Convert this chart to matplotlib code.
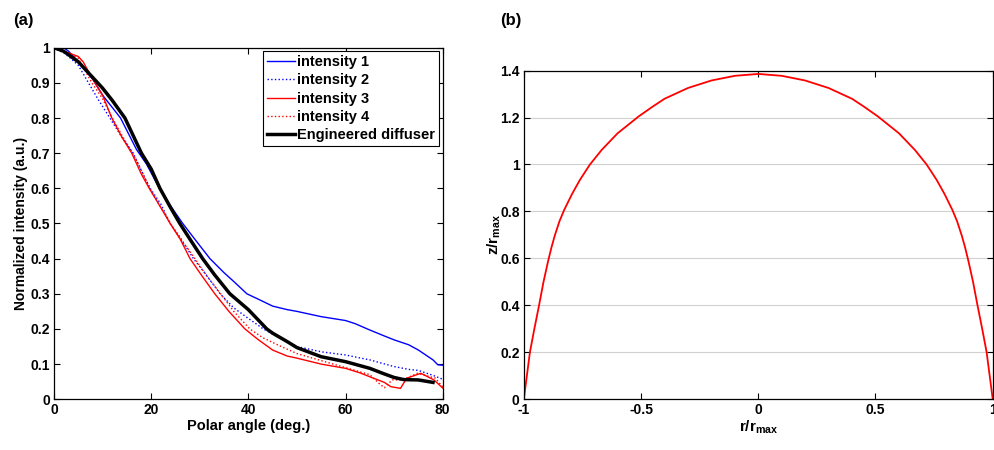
import matplotlib
matplotlib.use("Agg")
import matplotlib.pyplot as plt

plt.rcParams['font.family'] = ['Liberation Sans', 'DejaVu Sans']
plt.rcParams['font.weight'] = 'bold'
plt.rcParams['mathtext.fontset'] = 'custom'
plt.rcParams['mathtext.rm'] = 'Liberation Sans:bold'
plt.rcParams['mathtext.it'] = 'Liberation Sans:bold'

# (a) angular intensity profiles
ang_1 = [0, 2, 3, 5, 8, 10, 12, 13.7, 17, 19, 21.7, 24, 26.5, 29, 32.1, 35, 37, 39.7, 42, 45,
         48, 50, 55, 60, 62, 65, 68, 70, 73, 75, 78, 79, 80]
int_1 = [1.0, 1.0, 0.99, 0.96, 0.91, 0.865, 0.83, 0.8, 0.71, 0.67, 0.6, 0.55, 0.5, 0.455, 0.4,
         0.36, 0.335, 0.3, 0.285, 0.265, 0.255, 0.25, 0.235, 0.224, 0.215, 0.197, 0.18, 0.169,
         0.155, 0.14, 0.112, 0.098, 0.097]

ang_2 = [0, 2, 3, 5, 7.1, 9, 11.5, 14, 16.3, 18, 19.8, 22, 23.9, 26, 28.7, 31, 34.2, 37, 40,
         43.1, 46, 50, 55, 60, 65, 70, 73, 75, 78, 80]
int_2 = [1.0, 0.985, 0.975, 0.95, 0.9, 0.855, 0.8, 0.745, 0.7, 0.65, 0.6, 0.555, 0.5, 0.46, 0.4,
         0.36, 0.3, 0.26, 0.23, 0.2, 0.178, 0.15, 0.135, 0.126, 0.112, 0.093, 0.085, 0.082,
         0.068, 0.057]

ang_3 = [0, 2, 3, 5, 6, 8, 10, 11.9, 14, 16, 18, 19.6, 22, 23.9, 26, 28, 30.5, 33.1, 36, 39.3,
         42, 45, 48, 50, 55, 60, 63, 65, 68, 69.3, 71.3, 72.6, 75.5, 78.2, 80]
int_3 = [1.0, 0.99, 0.985, 0.975, 0.96, 0.91, 0.865, 0.8, 0.745, 0.7, 0.64, 0.6, 0.545, 0.5,
         0.455, 0.4, 0.35, 0.3, 0.25, 0.2, 0.17, 0.14, 0.123, 0.117, 0.1, 0.088, 0.075, 0.064,
         0.048, 0.036, 0.031, 0.06, 0.074, 0.055, 0.032]

ang_4 = [0, 2, 3, 5, 7.8, 10, 12, 14, 16.2, 18, 19.7, 22, 24, 26.5, 27.5, 29, 31.5, 34.3, 37,
         40.3, 43, 46, 50, 55, 60, 65, 66.9, 68, 69.6, 71.8, 74.8, 78.5, 80]
int_4 = [1.0, 0.99, 0.985, 0.97, 0.9, 0.855, 0.8, 0.75, 0.7, 0.65, 0.6, 0.545, 0.5, 0.445, 0.43,
         0.4, 0.35, 0.3, 0.25, 0.2, 0.175, 0.155, 0.13, 0.11, 0.09, 0.07, 0.045, 0.033, 0.055,
         0.055, 0.074, 0.06, 0.035]

ang_d = [0, 2, 5, 8, 10, 12, 14.6, 18, 20, 21.8, 24, 25.9, 28, 30.6, 33, 36.2, 40, 43.8, 45,
         48, 50, 55, 60, 65, 68, 70, 72, 75, 78]
int_d = [1.0, 0.99, 0.96, 0.915, 0.885, 0.85, 0.8, 0.7, 0.655, 0.6, 0.545, 0.5, 0.455, 0.4,
         0.355, 0.3, 0.255, 0.2, 0.188, 0.164, 0.147, 0.121, 0.107, 0.088, 0.072, 0.062, 0.056,
         0.055, 0.048]

# (b) surface profile
r = [-1, -0.987, -0.974, -0.955, -0.935, -0.916, -0.896, -0.882, -0.868, -0.848, -0.828,
     -0.795, -0.761, -0.718, -0.668, -0.6, -0.51, -0.45, -0.4, -0.3, -0.2, -0.1, 0,
     0.1, 0.2, 0.3, 0.4, 0.45, 0.51, 0.6, 0.668, 0.718, 0.761, 0.795, 0.828, 0.848, 0.868,
     0.882, 0.896, 0.916, 0.935, 0.955, 0.974, 0.987, 1]
z = [0, 0.1, 0.2, 0.3, 0.4, 0.5, 0.59, 0.647, 0.697, 0.758, 0.806, 0.873, 0.934, 1.0, 1.062,
     1.133, 1.205, 1.247, 1.28, 1.326, 1.358, 1.378, 1.386,
     1.378, 1.358, 1.326, 1.28, 1.247, 1.205, 1.133, 1.062, 1.0, 0.934, 0.873, 0.806, 0.758,
     0.697, 0.647, 0.59, 0.5, 0.4, 0.3, 0.2, 0.1, 0]

fig = plt.figure(figsize=(9.94, 4.5), dpi=100)
ax1 = fig.add_axes([0.0543, 0.1127, 0.3911, 0.7813])
ax2 = fig.add_axes([0.527, 0.1133, 0.4717, 0.7297])

ax1.plot(ang_1, int_1, color='#0000ff', lw=1.0, label='intensity 1')
ax1.plot(ang_2, int_2, color='#0000ff', lw=1.0, ls=':', label='intensity 2')
ax1.plot(ang_3, int_3, color='#ff0000', lw=1.0, label='intensity 3')
ax1.plot(ang_4, int_4, color='#ff0000', lw=1.0, ls=':', label='intensity 4')
ax1.plot(ang_d, int_d, color='black', lw=2.5, label='Engineered diffuser')

ax1.set_xlim(0, 80)
ax1.set_ylim(0, 1)
ax1.set_xticks([0, 20, 40, 60, 80])
ax1.set_yticks([0, 0.1, 0.2, 0.3, 0.4, 0.5, 0.6, 0.7, 0.8, 0.9, 1])
ax1.set_yticklabels(['0', '0.1', '0.2', '0.3', '0.4', '0.5', '0.6', '0.7', '0.8', '0.9', '1'])
ax1.set_xlabel('Polar angle (deg.)', fontsize=10.5, fontweight='bold', labelpad=1)
ax1.set_ylabel('Normalized intensity (a.u.)', fontsize=10, fontweight='bold', labelpad=2)
leg = ax1.legend(loc='upper right', fontsize=10.5, handlelength=1.9, handletextpad=0.2,
                 labelspacing=0.3, borderpad=0.25, borderaxespad=0.25, fancybox=False,
                 edgecolor='black', framealpha=1)
leg.get_frame().set_linewidth(0.8)
for t in leg.get_texts():
    t.set_fontweight('bold')
fig.text(0.013, 0.955, '(a)', fontsize=12, fontweight='bold', va='center')

ax2.plot(r, z, color='#ff0000', lw=1.3)
ax2.set_xlim(-1, 1)
ax2.set_ylim(0, 1.4)
ax2.set_xticks([-1, -0.5, 0, 0.5, 1])
ax2.set_xticklabels(['-1', '-0.5', '0', '0.5', '1'])
ax2.set_yticks([0, 0.2, 0.4, 0.6, 0.8, 1, 1.2, 1.4])
ax2.set_yticklabels(['0', '0.2', '0.4', '0.6', '0.8', '1', '1.2', '1.4'])
ax2.yaxis.grid(True, color='#d0d0d0', lw=0.8)
ax2.set_axisbelow(True)
ax2.set_xlabel(r'r/r$_{\mathrm{max}}$', fontsize=11, fontweight='bold', labelpad=1)
ax2.set_ylabel(r'z/r$_{\mathrm{max}}$', fontsize=11, fontweight='bold', labelpad=-2)
fig.text(0.503, 0.955, '(b)', fontsize=12, fontweight='bold', va='center')

for ax in (ax1, ax2):
    ax.tick_params(direction='in', top=True, right=True, length=4, width=0.8,
                   labelsize=10, pad=3)
    for lab in ax.get_xticklabels() + ax.get_yticklabels():
        lab.set_fontweight('bold')
    for s in ax.spines.values():
        s.set_linewidth(0.9)

fig.savefig('out.png', dpi=100)
